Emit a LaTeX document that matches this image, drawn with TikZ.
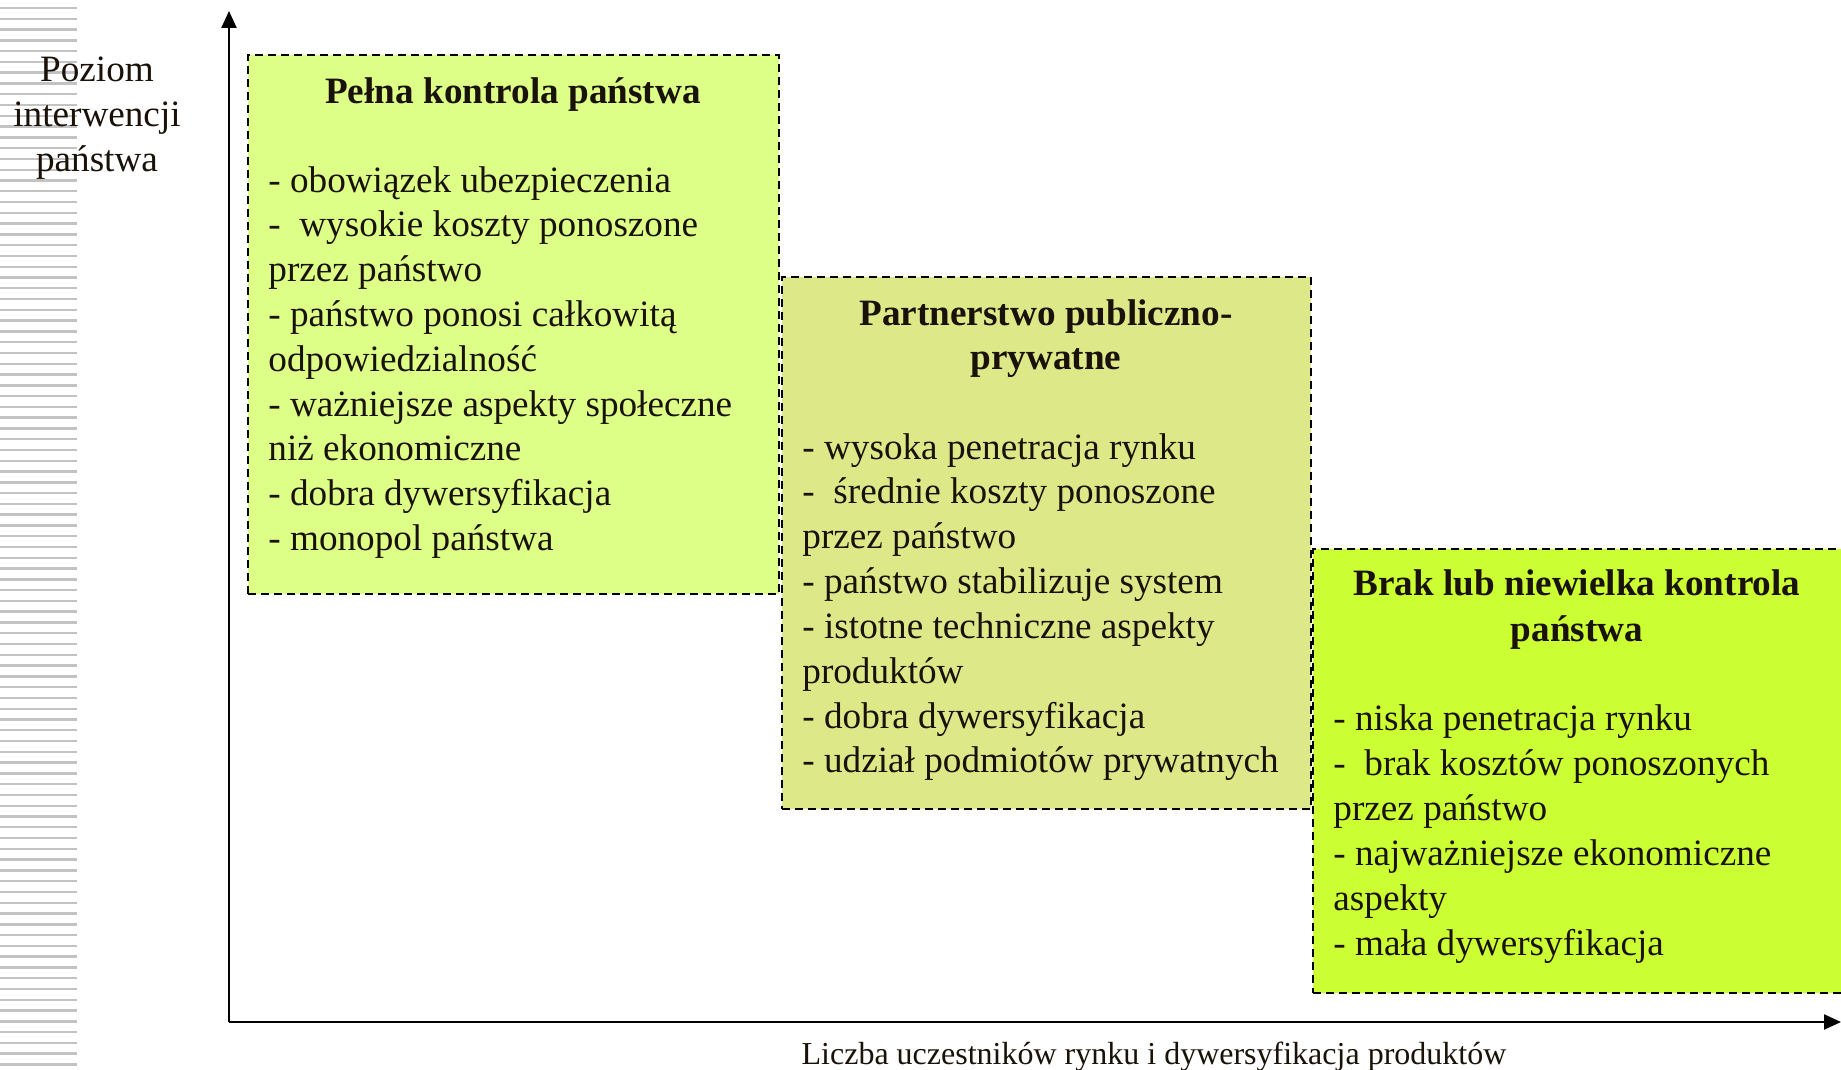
\documentclass[tikz,border=0pt]{standalone}
\usepackage{fontspec}
\setmainfont{Liberation Serif}
\usetikzlibrary{arrows.meta}
\definecolor{txt}{RGB}{26,18,8}
\definecolor{fillA}{RGB}{221,255,136}
\definecolor{fillB}{RGB}{221,233,136}
\definecolor{fillC}{RGB}{204,255,51}
\definecolor{stripe}{RGB}{195,195,195}
\tikzset{
  boxstyle/.style={draw=black, line width=0.75pt, dash pattern=on 4pt off 2.5pt, inner sep=0pt, outer sep=0pt, anchor=north west},
  body/.style={font=\fontsize{18.6pt}{22.3pt}\selectfont, text=txt, inner sep=0pt, anchor=base west},
  ttl/.style={font=\fontsize{18.6pt}{22.3pt}\selectfont\bfseries, text=txt, inner sep=0pt, anchor=base},
  ylab/.style={font=\fontsize{18.6pt}{22.3pt}\selectfont, text=txt, inner sep=0pt, anchor=base},
  xlab/.style={font=\fontsize{16pt}{19pt}\selectfont, text=txt, inner sep=0pt, anchor=base},
  axis/.style={line width=1.2pt, -{Triangle[length=8.5pt,width=7.5pt]}},
}
\begin{document}
\begin{tikzpicture}[x=0.5pt,y=-0.5pt]
\useasboundingbox (0,0) rectangle (1841,1070);
\fill[white] (0,0) rectangle (1841,1070);
% stripes
\foreach \k in {0,...,98}
  \draw[stripe, line width=1.2pt] (0,{8+10.78*\k}) -- (77,{8+10.78*\k});
% axes
\coordinate (O) at (229,1022);
\coordinate (ytop) at (229,11);
\coordinate (xend) at (1841,1022);
\draw[axis] (O) -- (ytop);
\draw[axis] (O) -- (xend);
% boxes
\node[boxstyle, fill=fillA, minimum width=265.5pt, minimum height=269.5pt] (b1) at (248,55) {};
\node[boxstyle, fill=fillB, minimum width=264.5pt, minimum height=266pt] (b2) at (782,277) {};
\node[boxstyle, fill=fillC, minimum width=270pt, minimum height=222pt] (b3) at (1313,549) {};
% box 1 text
\node[ttl] (t1) at (513,103.5) {Pełna kontrola państwa};
\foreach \t [count=\i] in {- obowiązek ubezpieczenia,-\ \ wysokie koszty ponoszone,przez państwo,- państwo ponosi całkowitą,odpowiedzialność,- ważniejsze aspekty społeczne,niż ekonomiczne,- dobra dywersyfikacja,- monopol państwa}
  \node[body] (a\i) at (268,{192+44.8*(\i-1)}) {\t};
% box 2 text
\node[ttl] (t2a) at (1046,325) {Partnerstwo publiczno-};
\node[ttl] (t2b) at (1046,369) {prywatne};
\foreach \t [count=\i] in {- wysoka penetracja rynku,-\ \ średnie koszty ponoszone,przez państwo,- państwo stabilizuje system,- istotne techniczne aspekty,produktów,- dobra dywersyfikacja,- udział podmiotów prywatnych}
  \node[body] (p\i) at (802,{459+44.85*(\i-1)}) {\t};
% box 3 text
\node[ttl] (t3a) at (1577,595.5) {Brak lub niewielka kontrola};
\node[ttl] (t3b) at (1577,641.5) {państwa};
\foreach \t [count=\i] in {- niska penetracja rynku,-\ \ brak kosztów ponoszonych,przez państwo,- najważniejsze ekonomiczne,aspekty,- mała dywersyfikacja}
  \node[body] (c\i) at (1333,{730.5+44.9*(\i-1)}) {\t};
% axis labels
\node[ylab] (y1) at (97,81.5) {Poziom};
\node[ylab] (y2) at (97,126.5) {interwencji};
\node[ylab] (y3) at (97,171.5) {państwa};
\node[xlab] (xl) at (1154,1064) {Liczba uczestników rynku i dywersyfikacja produktów};
\end{tikzpicture}
\end{document}
